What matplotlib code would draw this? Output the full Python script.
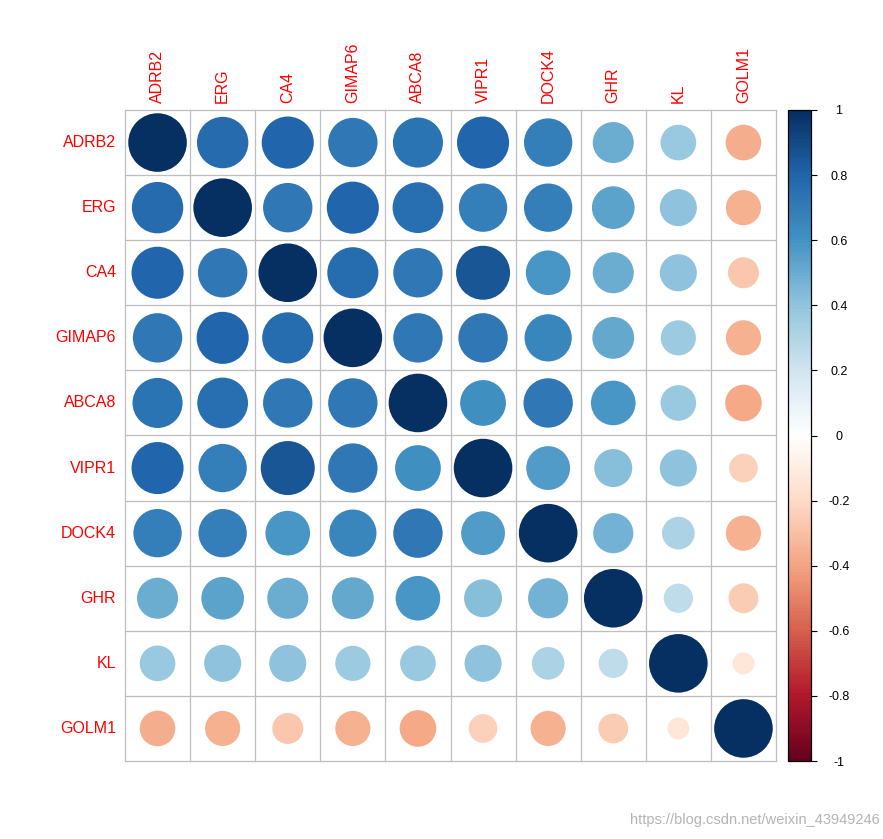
import numpy as np
import matplotlib
matplotlib.use("Agg")
import matplotlib.pyplot as plt
from matplotlib.colors import LinearSegmentedColormap, Normalize
from matplotlib.patches import Circle
from matplotlib.cm import ScalarMappable

genes = ["ADRB2", "ERG", "CA4", "GIMAP6", "ABCA8", "VIPR1", "DOCK4", "GHR", "KL", "GOLM1"]

row_ADRB2  = [1.00, 0.77, 0.79, 0.71, 0.73, 0.79, 0.68, 0.49, 0.37, -0.37]
row_ERG    = [0.77, 1.00, 0.71, 0.79, 0.75, 0.68, 0.68, 0.53, 0.40, -0.36]
row_CA4    = [0.79, 0.71, 1.00, 0.76, 0.71, 0.85, 0.58, 0.49, 0.40, -0.28]
row_GIMAP6 = [0.71, 0.79, 0.76, 1.00, 0.71, 0.71, 0.65, 0.51, 0.36, -0.36]
row_ABCA8  = [0.73, 0.75, 0.71, 0.71, 1.00, 0.61, 0.71, 0.58, 0.37, -0.39]
row_VIPR1  = [0.79, 0.68, 0.85, 0.71, 0.61, 1.00, 0.56, 0.42, 0.40, -0.24]
row_DOCK4  = [0.68, 0.68, 0.58, 0.65, 0.71, 0.56, 1.00, 0.47, 0.31, -0.36]
row_GHR    = [0.49, 0.53, 0.49, 0.51, 0.58, 0.42, 0.47, 1.00, 0.25, -0.26]
row_KL     = [0.37, 0.40, 0.40, 0.36, 0.37, 0.40, 0.31, 0.25, 1.00, -0.14]
row_GOLM1  = [-0.37, -0.36, -0.28, -0.36, -0.39, -0.24, -0.36, -0.26, -0.14, 1.00]

corr = np.array([row_ADRB2, row_ERG, row_CA4, row_GIMAP6, row_ABCA8,
                 row_VIPR1, row_DOCK4, row_GHR, row_KL, row_GOLM1])

col2 = ["#67001F", "#B2182B", "#D6604D", "#F4A582", "#FDDBC7", "#FFFFFF",
        "#D1E5F0", "#92C5DE", "#4393C3", "#2166AC", "#053061"]
cmap = LinearSegmentedColormap.from_list("corrplot", col2, N=200)
norm = Normalize(-1, 1)

plt.rcParams['font.family'] = ['Liberation Sans', 'DejaVu Sans']

W, H = 883, 839
fig = plt.figure(figsize=(W / 100, H / 100), dpi=100)
fig.patch.set_facecolor("white")

gx0, gx1, gy0, gy1 = 125, 776, 110, 761
ax = fig.add_axes([gx0 / W, 1 - gy1 / H, (gx1 - gx0) / W, (gy1 - gy0) / H])
n = len(genes)
ax.set_xlim(0, n)
ax.set_ylim(0, n)
ax.axis("off")

grid_col = "#BEBEBE"
for k in range(n + 1):
    ax.plot([k, k], [0, n], color=grid_col, lw=0.9, zorder=1, clip_on=False)
    ax.plot([0, n], [k, k], color=grid_col, lw=0.9, zorder=1, clip_on=False)

for i in range(n):
    for j in range(n):
        v = corr[i, j]
        r = 0.45 * np.sqrt(abs(v))
        c = Circle((j + 0.5, n - i - 0.5), r, facecolor=cmap(norm(v)),
                   edgecolor="none", zorder=2)
        ax.add_patch(c)

fs = 11.5
for i, g in enumerate(genes):
    ax.text(-9 / 65.1, n - i - 0.5, g, ha="right", va="center",
            color="red", fontsize=fs)
    ax.text(i + 0.5, n + 7 / 65.1, g, ha="center", va="bottom",
            rotation=90, color="red", fontsize=fs)

cax = fig.add_axes([788 / W, 1 - gy1 / H, 23 / W, (gy1 - gy0) / H])
sm = ScalarMappable(norm=norm, cmap=cmap)
cb = fig.colorbar(sm, cax=cax)
ticks = np.round(np.arange(-1, 1.01, 0.2), 1)
cb.set_ticks(ticks)
cb.set_ticklabels([("%g" % t) if abs(t) > 1e-9 else "0" for t in ticks])
cb.outline.set_linewidth(0.9)
cb.outline.set_edgecolor("black")
cax.tick_params(axis="y", length=4, width=0.8, pad=16, labelsize=9)
for lab in cax.get_yticklabels():
    lab.set_horizontalalignment("center")

fig.text(880 / W, 1 - 820 / H, "https://blog.csdn.net/weixin_43949246",
         ha="right", va="center", color="#B4B4B4", fontsize=10.5)

fig.savefig("out.png", dpi=100, facecolor="white")
